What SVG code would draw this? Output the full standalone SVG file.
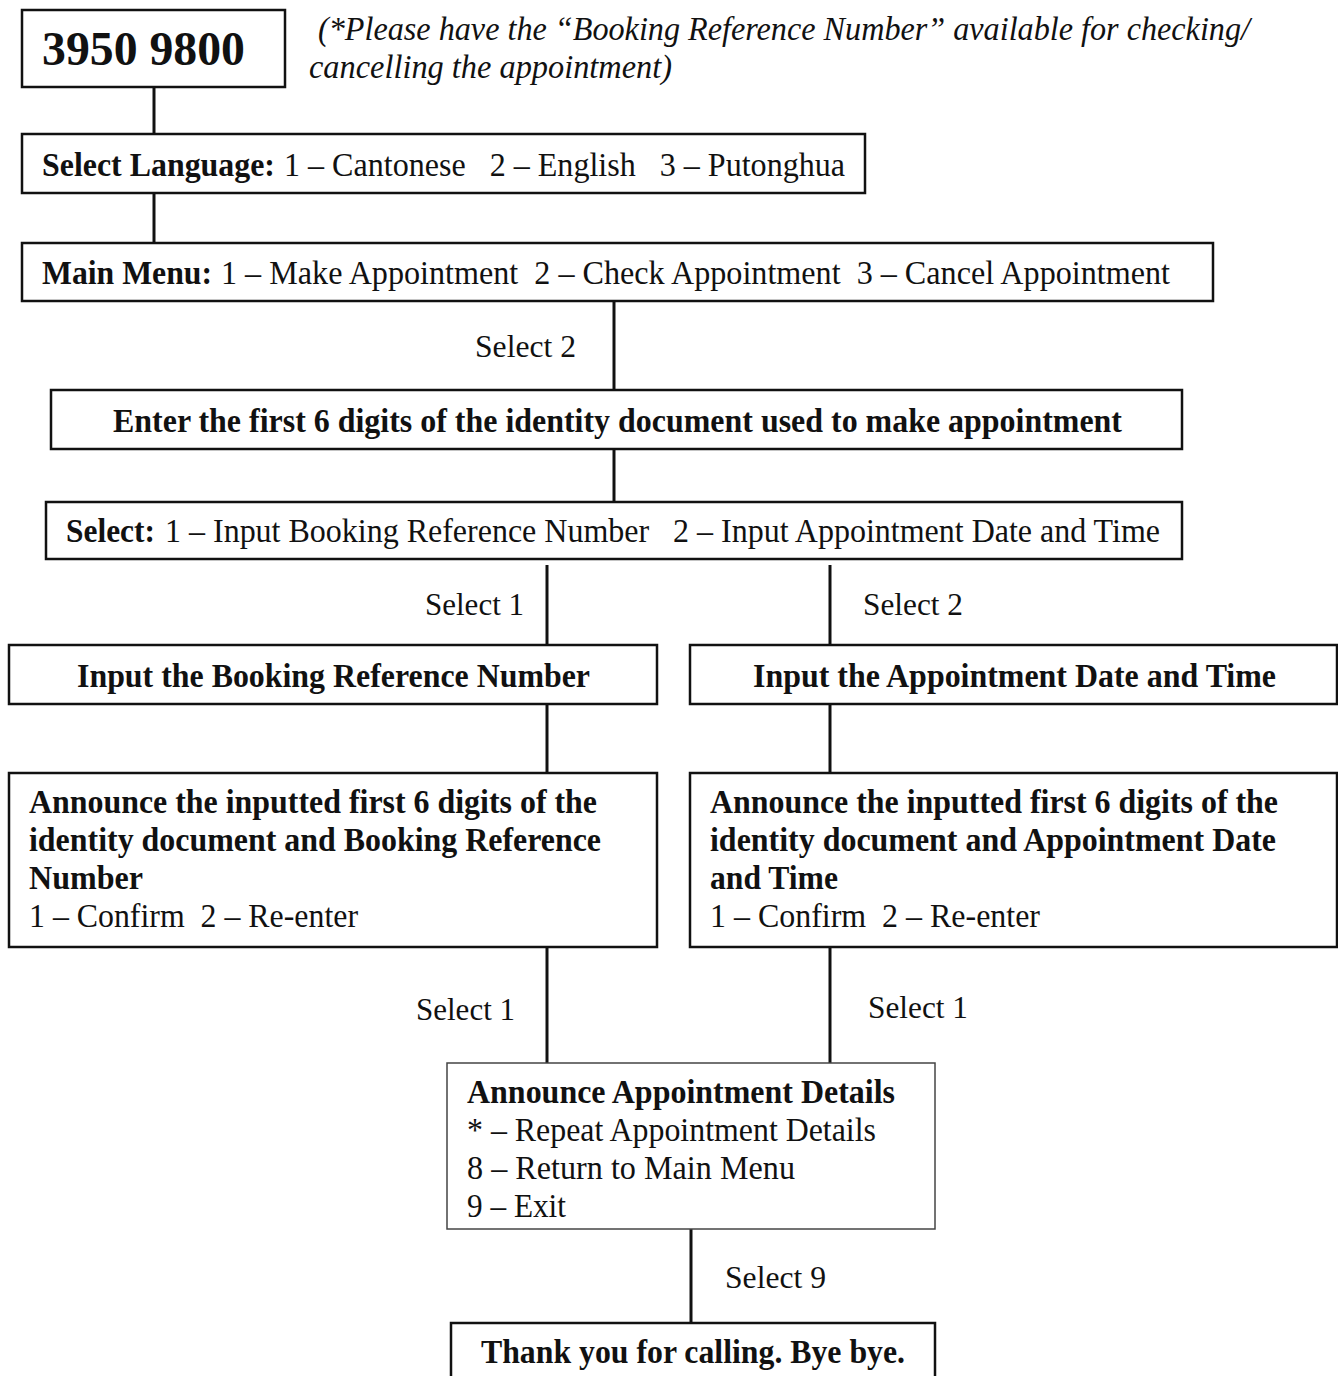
<svg xmlns="http://www.w3.org/2000/svg" width="1338" height="1376" viewBox="0 0 1338 1376">
<style>
.box{fill:#fff;stroke:#111;stroke-width:2.5}
.thin{fill:#fff;stroke:#444;stroke-width:1.5}
.ln{stroke:#111;stroke-width:3;fill:none}
text{font-family:"Times New Roman","Liberation Serif",serif;fill:#111;font-size:33px;white-space:pre}
.b{font-weight:bold}
.i{font-style:italic}
.lab{font-size:32px}
</style>
<rect width="1338" height="1376" fill="#fff"/>
<g id="connectors">
<line class="ln" x1="154" y1="87" x2="154" y2="134"/>
<line class="ln" x1="154" y1="193" x2="154" y2="243"/>
<line class="ln" x1="614" y1="301" x2="614" y2="390"/>
<line class="ln" x1="614" y1="449" x2="614" y2="502"/>
<line class="ln" x1="547" y1="565" x2="547" y2="645"/>
<line class="ln" x1="830" y1="565" x2="830" y2="645"/>
<line class="ln" x1="547" y1="704" x2="547" y2="773"/>
<line class="ln" x1="830" y1="704" x2="830" y2="773"/>
<line class="ln" x1="547" y1="947" x2="547" y2="1063"/>
<line class="ln" x1="830" y1="947" x2="830" y2="1063"/>
<line class="ln" x1="691" y1="1229" x2="691" y2="1323"/>
<text class="lab" x="475" y="357" textLength="101" lengthAdjust="spacingAndGlyphs">Select 2</text>
<text class="lab" x="425" y="615" textLength="99" lengthAdjust="spacingAndGlyphs">Select 1</text>
<text class="lab" x="863" y="615" textLength="100" lengthAdjust="spacingAndGlyphs">Select 2</text>
<text class="lab" x="416" y="1020" textLength="99" lengthAdjust="spacingAndGlyphs">Select 1</text>
<text class="lab" x="868" y="1018" textLength="100" lengthAdjust="spacingAndGlyphs">Select 1</text>
<text class="lab" x="725" y="1288" textLength="101" lengthAdjust="spacingAndGlyphs">Select 9</text>
</g>
<g id="phone">
<rect class="box" x="22" y="10" width="263" height="77"/>
<text class="b" x="42" y="65" style="font-size:48px" textLength="203" lengthAdjust="spacingAndGlyphs">3950 9800</text>
</g>
<g id="note">
<text class="i" x="318" y="40" textLength="932" lengthAdjust="spacingAndGlyphs">(*Please have the “Booking Reference Number” available for checking/</text>
<text class="i" x="309" y="78" textLength="363" lengthAdjust="spacingAndGlyphs">cancelling the appointment)</text>
</g>
<g id="language">
<rect class="box" x="22" y="134" width="843" height="59"/>
<text class="b" x="42" y="176" textLength="233" lengthAdjust="spacingAndGlyphs">Select Language:</text>
<text x="284" y="176" textLength="561" lengthAdjust="spacingAndGlyphs">1 – Cantonese   2 – English   3 – Putonghua</text>
</g>
<g id="mainmenu">
<rect class="box" x="22" y="243" width="1191" height="58"/>
<text class="b" x="42" y="284" textLength="170" lengthAdjust="spacingAndGlyphs">Main Menu:</text>
<text x="221" y="284" textLength="949" lengthAdjust="spacingAndGlyphs">1 – Make Appointment  2 – Check Appointment  3 – Cancel Appointment</text>
</g>
<g id="enterid">
<rect class="box" x="51" y="390" width="1131" height="59"/>
<text class="b" x="113" y="432" textLength="1009" lengthAdjust="spacingAndGlyphs">Enter the first 6 digits of the identity document used to make appointment</text>
</g>
<g id="select">
<rect class="box" x="46" y="502" width="1136" height="57"/>
<text class="b" x="66" y="542" textLength="89" lengthAdjust="spacingAndGlyphs">Select:</text>
<text x="165" y="542" textLength="995" lengthAdjust="spacingAndGlyphs">1 – Input Booking Reference Number   2 – Input Appointment Date and Time</text>
</g>
<g id="inputref">
<rect class="box" x="9" y="645" width="648" height="59"/>
<text class="b" x="77" y="687" textLength="513" lengthAdjust="spacingAndGlyphs">Input the Booking Reference Number</text>
</g>
<g id="inputdate">
<rect class="box" x="690" y="645" width="647" height="59"/>
<text class="b" x="753" y="687" textLength="523" lengthAdjust="spacingAndGlyphs">Input the Appointment Date and Time</text>
</g>
<g id="announceref">
<rect class="box" x="9" y="773" width="648" height="174"/>
<text class="b" x="29" y="813" textLength="568" lengthAdjust="spacingAndGlyphs">Announce the inputted first 6 digits of the</text>
<text class="b" x="29" y="851" textLength="572" lengthAdjust="spacingAndGlyphs">identity document and Booking Reference</text>
<text class="b" x="29" y="889" textLength="114" lengthAdjust="spacingAndGlyphs">Number</text>
<text x="29" y="927" textLength="329" lengthAdjust="spacingAndGlyphs">1 – Confirm  2 – Re-enter</text>
</g>
<g id="announcedate">
<rect class="box" x="690" y="773" width="647" height="174"/>
<text class="b" x="710" y="813" textLength="568" lengthAdjust="spacingAndGlyphs">Announce the inputted first 6 digits of the</text>
<text class="b" x="710" y="851" textLength="566" lengthAdjust="spacingAndGlyphs">identity document and Appointment Date</text>
<text class="b" x="710" y="889" textLength="128" lengthAdjust="spacingAndGlyphs">and Time</text>
<text x="710" y="927" textLength="330" lengthAdjust="spacingAndGlyphs">1 – Confirm  2 – Re-enter</text>
</g>
<g id="details">
<rect class="thin" x="447" y="1063" width="488" height="166"/>
<text class="b" x="467" y="1103" textLength="428" lengthAdjust="spacingAndGlyphs">Announce Appointment Details</text>
<text x="467" y="1141" textLength="409" lengthAdjust="spacingAndGlyphs">* – Repeat Appointment Details</text>
<text x="467" y="1179" textLength="328" lengthAdjust="spacingAndGlyphs">8 – Return to Main Menu</text>
<text x="467" y="1217" textLength="99" lengthAdjust="spacingAndGlyphs">9 – Exit</text>
</g>
<g id="bye">
<rect class="box" x="451" y="1323" width="484" height="70"/>
<text class="b" x="481" y="1363" textLength="424" lengthAdjust="spacingAndGlyphs">Thank you for calling. Bye bye.</text>
</g>
</svg>
